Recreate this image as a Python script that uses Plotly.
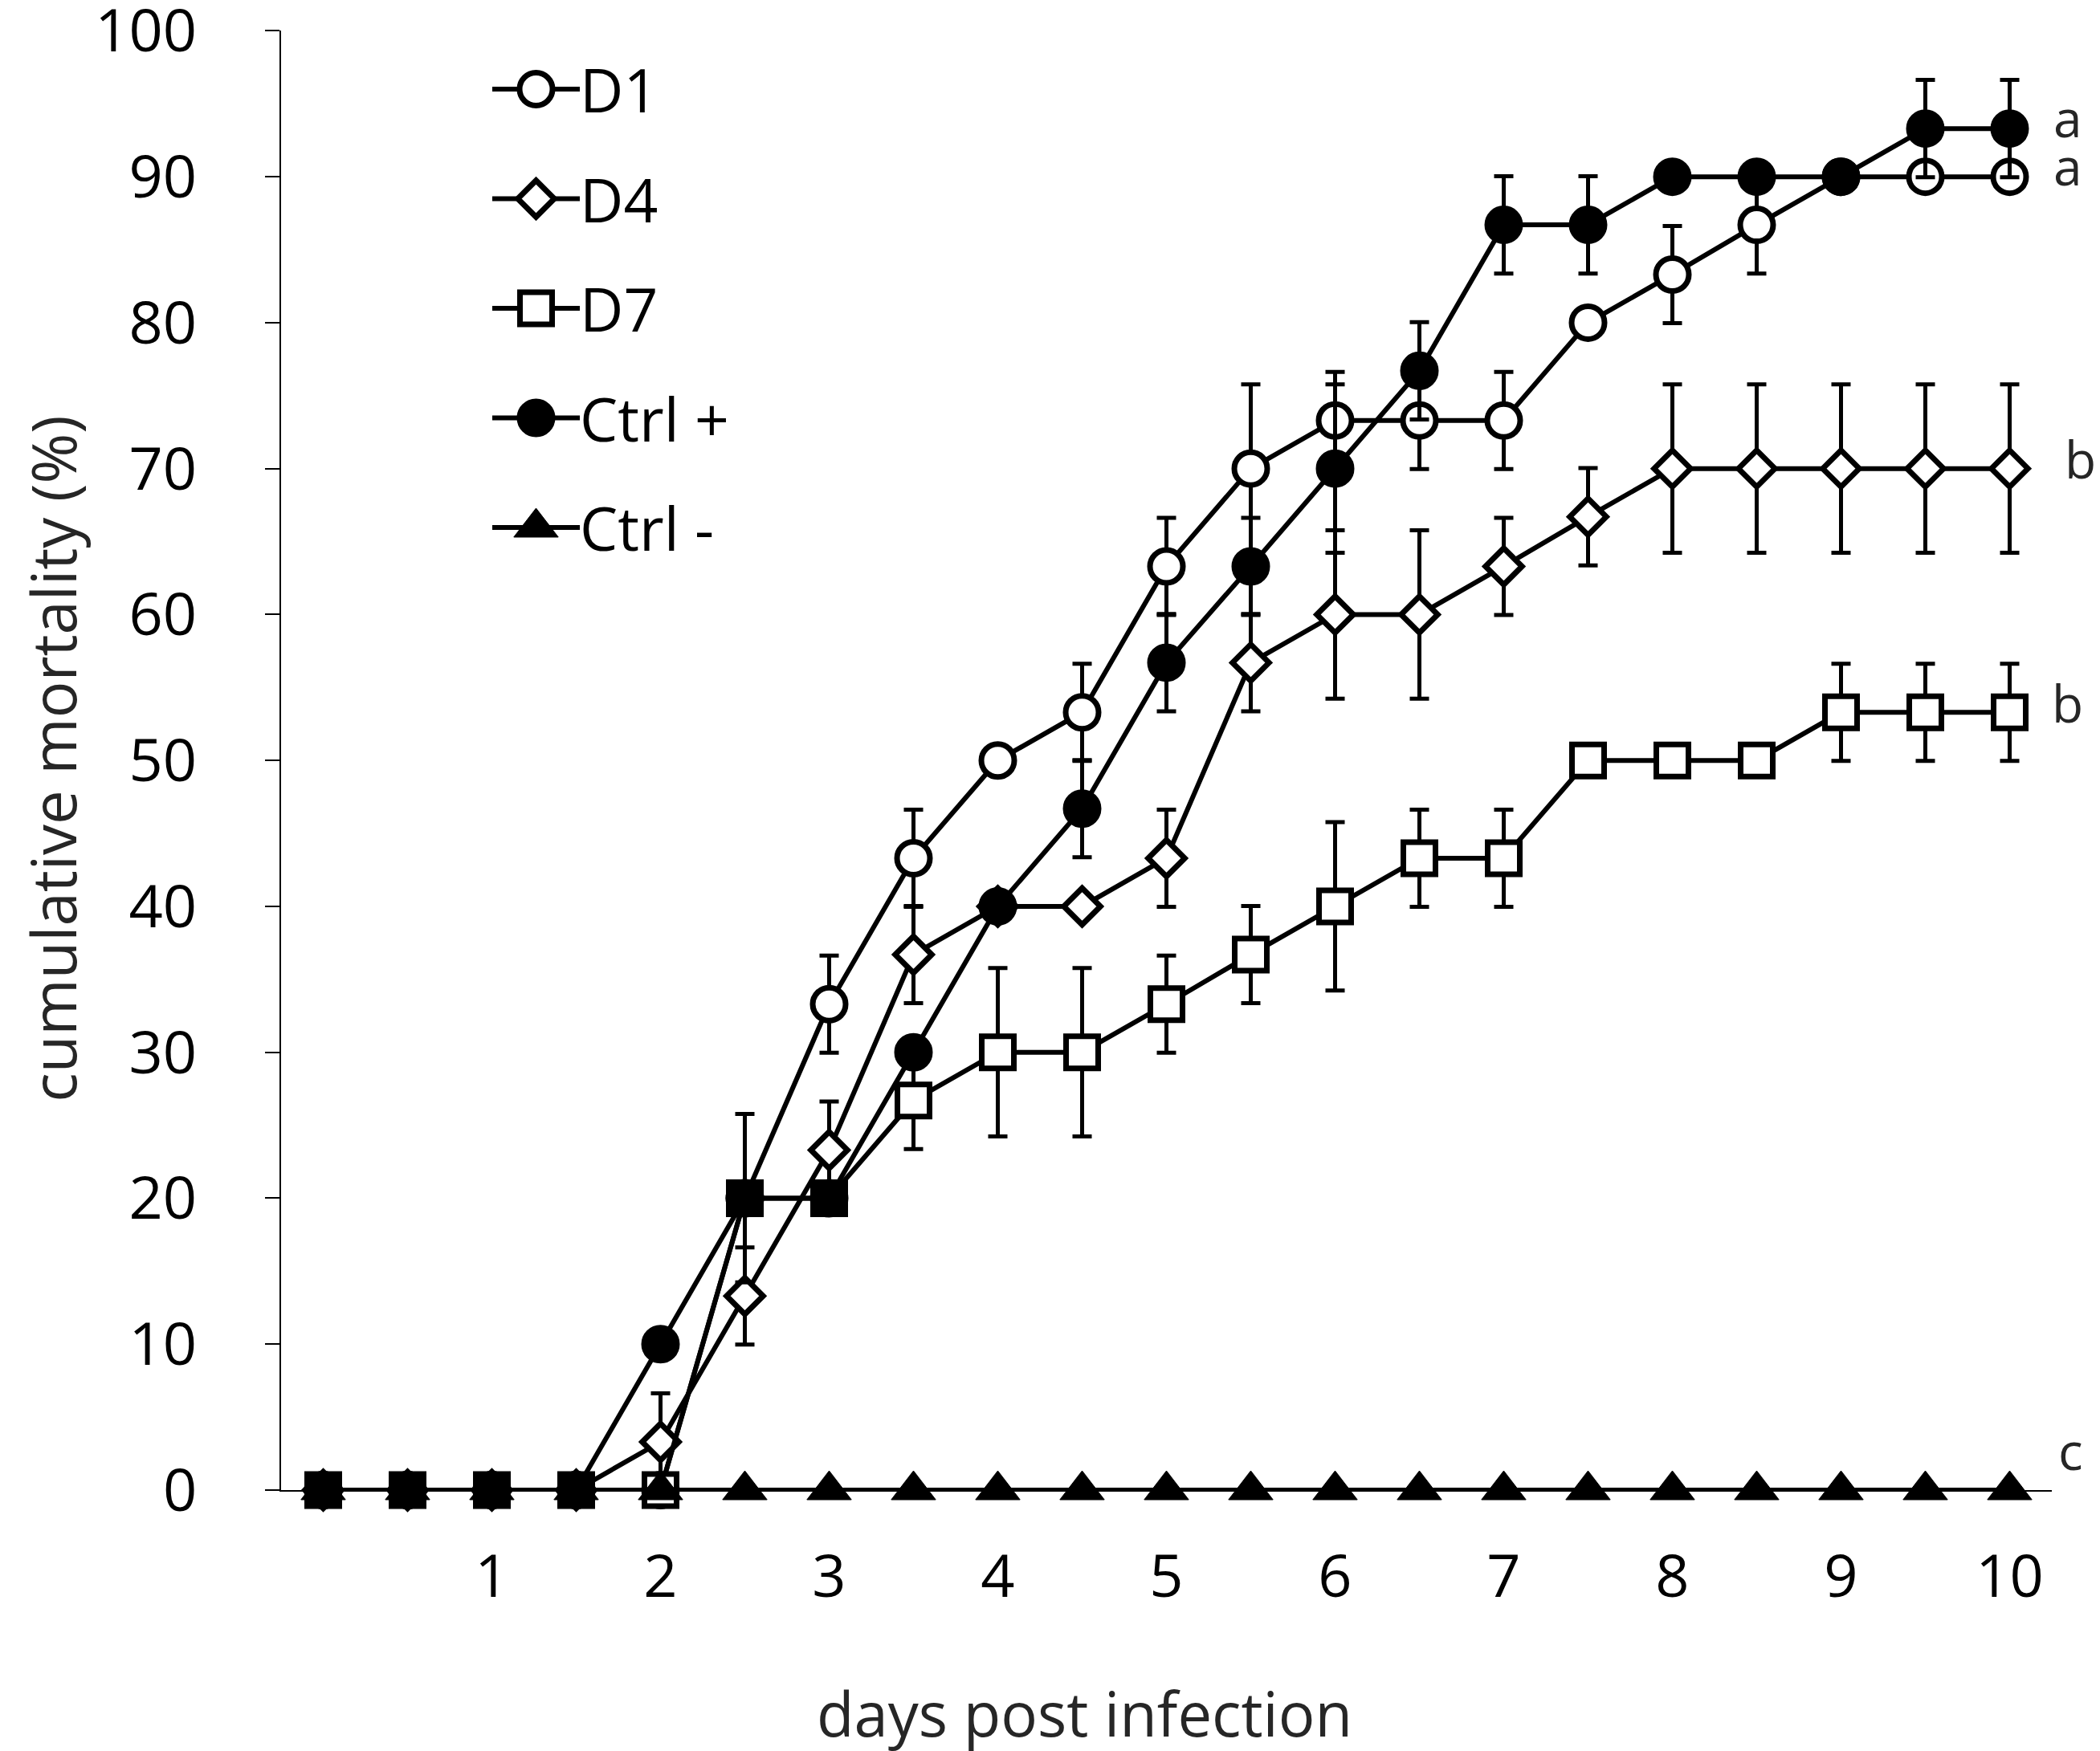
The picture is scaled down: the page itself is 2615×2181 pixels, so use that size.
import plotly.graph_objects as go

# ---------------- data ----------------
days = [0, 0.5, 1, 1.5, 2, 2.5, 3, 3.5, 4, 4.5, 5, 5.5, 6, 6.5, 7, 7.5, 8, 8.5, 9, 9.5, 10]
tick_days = [1, 2, 3, 4, 5, 6, 7, 8, 9, 10]
y_ticks = [0, 10, 20, 30, 40, 50, 60, 70, 80, 90, 100]

d1 = [0, 0, 0, 0, 0, 20, 33.3, 43.3, 50, 53.3, 63.3, 70, 73.3, 73.3, 73.3, 80, 83.3, 86.7, 90, 90, 90]
d1_err = [0, 0, 0, 0, 0, 0, 3.33, 3.33, 0, 3.33, 3.33, 5.77, 3.33, 3.33, 3.33, 0, 3.33, 3.33, 0, 0, 0]

d4 = [0, 0, 0, 0, 3.3, 13.3, 23.3, 36.7, 40, 40, 43.3, 56.7, 60, 60, 63.3, 66.7, 70, 70, 70, 70, 70]
d4_err = [0, 0, 0, 0, 3.33, 3.33, 3.33, 3.33, 0, 0, 3.33, 3.33, 5.77, 5.77, 3.33, 3.33, 5.77, 5.77, 5.77, 5.77, 5.77]

d7 = [0, 0, 0, 0, 0, 20, 20, 26.7, 30, 30, 33.3, 36.7, 40, 43.3, 43.3, 50, 50, 50, 53.3, 53.3, 53.3]
d7_err = [0, 0, 0, 0, 0, 5.77, 0, 3.33, 5.77, 5.77, 3.33, 3.33, 5.77, 3.33, 3.33, 0, 0, 0, 3.33, 3.33, 3.33]

ctrl_pos = [0, 0, 0, 0, 10, 20, 20, 30, 40, 46.7, 56.7, 63.3, 70, 76.7, 86.7, 86.7, 90, 90, 90, 93.3, 93.3]
ctrl_pos_err = [0, 0, 0, 0, 0, 0, 0, 0, 0, 3.33, 3.33, 3.33, 5.77, 3.33, 3.33, 3.33, 0, 0, 0, 3.33, 3.33]

ctrl_neg = [0, 0, 0, 0, 0, 0, 0, 0, 0, 0, 0, 0, 0, 0, 0, 0, 0, 0, 0, 0, 0]
ctrl_neg_err = [0, 0, 0, 0, 0, 0, 0, 0, 0, 0, 0, 0, 0, 0, 0, 0, 0, 0, 0, 0, 0]

series_names = ["D1", "D4", "D7", "Ctrl +", "Ctrl -"]
series_values = [d1, d4, d7, ctrl_pos, ctrl_neg]
series_errors = [d1_err, d4_err, d7_err, ctrl_pos_err, ctrl_neg_err]
group_letters = ["a", "b", "b", "a", "c"]

# ---------------- styles ----------------
W, H = 2615, 2181
L, R, T, B = 342, 68, 30, 333
FONT = "Open Sans"
INK = "#000000"
TITLE_INK = "#262626"

d7_fill = ["black"] * 4 + ["white"] + ["black"] * 2 + ["white"] * 14
styles = {
    "D1": dict(symbol="circle", size=41, color="white"),
    "D4": dict(symbol="diamond", size=35, color="white"),
    "D7": dict(symbol="square", size=40, color=d7_fill),
    "Ctrl +": dict(symbol="circle", size=41, color="black"),
    "Ctrl -": dict(symbol="triangle-up", size=48, color="black"),
}
legend_fill = {"D1": "white", "D4": "white", "D7": "white", "Ctrl +": "black", "Ctrl -": "black"}
letter_shift = {"D1": (72, 14), "D4": (88, 12), "D7": (72, 12), "Ctrl +": (72, 14), "Ctrl -": (76, 50)}
draw_order = ["D1", "D4", "Ctrl +", "D7", "Ctrl -"]
LINE_W = 6
MARK_W = 7

fig = go.Figure()

for name in draw_order:
    i = series_names.index(name)
    st = styles[name]
    fig.add_trace(go.Scatter(
        x=days, y=series_values[i], mode="lines+markers", name=name,
        line=dict(color="black", width=LINE_W),
        marker=dict(symbol=st["symbol"], size=st["size"], color=st["color"],
                    line=dict(color="black", width=MARK_W if name != "Ctrl -" else 1)),
        error_y=dict(type="data", array=series_errors[i], symmetric=True,
                     visible=True, color="black", thickness=5, width=12),
        cliponaxis=False, showlegend=False,
    ))

# ---------------- legend (drawn on a small overlay axis pair) ----------------
n = len(series_names)
for k, name in enumerate(series_names):
    st = styles[name]
    fig.add_trace(go.Scatter(
        x=[0, 2], y=[k, k], mode="lines", xaxis="x2", yaxis="y2",
        line=dict(color="black", width=LINE_W), showlegend=False, hoverinfo="skip"))
    fig.add_trace(go.Scatter(
        x=[1], y=[k], mode="markers", xaxis="x2", yaxis="y2",
        marker=dict(symbol=st["symbol"], size=st["size"], color=legend_fill[name],
                    line=dict(color="black", width=MARK_W if name != "Ctrl -" else 1)),
        showlegend=False, hoverinfo="skip", cliponaxis=False))

annotations = []
for k, name in enumerate(series_names):
    annotations.append(dict(
        x=2, y=k, xref="x2", yref="y2", text=name, showarrow=False,
        xanchor="left", yanchor="middle", xshift=-2,
        font=dict(family=FONT, size=75, color=INK)))

# significance letters next to final values
for i, name in enumerate(series_names):
    dx, dy = letter_shift[name]
    annotations.append(dict(
        x=days[-1], y=series_values[i][-1], xref="x", yref="y",
        text=group_letters[i], showarrow=False, xanchor="center", yanchor="middle",
        xshift=dx, yshift=dy, font=dict(family=FONT, size=64, color=TITLE_INK)))

plot_w = W - L - R
plot_h = H - T - B

# axis titles
annotations.append(dict(
    x=(1342 - L) / plot_w, y=(H - B - H + 2) / plot_h, xref="paper", yref="paper",
    text="days post infection", showarrow=False, xanchor="center", yanchor="bottom",
    font=dict(family=FONT, size=76, color=TITLE_INK)))
annotations.append(dict(
    x=(4 - L) / plot_w, y=0.501, xref="paper", yref="paper",
    text="cumulative mortality (%)", showarrow=False, textangle=-90,
    xanchor="left", yanchor="middle",
    font=dict(family=FONT, size=76, color=TITLE_INK)))

ITEM_GAP = 136.5           # px between legend rows
FIRST_ROW = 103            # px from top of figure to first legend row
leg_x0 = (605 - L) / plot_w
leg_x1 = (714 - L) / plot_w
leg_top_px = T
leg_bot_px = FIRST_ROW + (n - 1) * ITEM_GAP + ITEM_GAP / 2
leg_top = 1.0
leg_bot = (H - B - leg_bot_px) / plot_h
r_top = -(FIRST_ROW - leg_top_px) / ITEM_GAP
r_bot = (n - 1) + 0.5

fig.update_layout(
    width=W, height=H,
    margin=dict(l=L, r=R, t=T, b=B, autoexpand=False),
    paper_bgcolor="white", plot_bgcolor="rgba(0,0,0,0)",
    font=dict(family=FONT, color=INK),
    showlegend=False,
    annotations=annotations,
    xaxis=dict(
        range=[-0.25, 10.25], tickvals=tick_days, ticktext=[str(t) for t in tick_days],
        showgrid=False, zeroline=False, showline=True, linecolor="black", linewidth=2,
        ticks="", ticklabelstandoff=42, automargin=False,
        tickfont=dict(family=FONT, size=74, color=INK),
    ),
    yaxis=dict(
        range=[0, 100.02], tickvals=y_ticks, ticktext=[str(t) for t in y_ticks],
        showgrid=False, zeroline=False,
        showline=True, linecolor="black", linewidth=2,
        ticks="outside", ticklen=18, tickwidth=2, tickcolor="black",
        ticklabelstandoff=70, ticklabeloverflow="allow", automargin=False,
        tickfont=dict(family=FONT, size=74, color=INK),
    ),
    xaxis2=dict(domain=[leg_x0, leg_x1], range=[0, 2], anchor="y2", visible=False,
                fixedrange=True, automargin=False),
    yaxis2=dict(domain=[leg_bot, leg_top], range=[r_bot, r_top], anchor="x2", visible=False,
                fixedrange=True, automargin=False),
)

fig.write_html("out.html")
